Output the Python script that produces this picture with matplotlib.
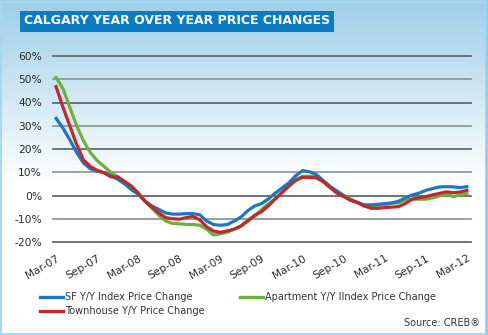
import matplotlib
matplotlib.use('Agg')
import matplotlib.pyplot as plt
import numpy as np
from matplotlib.patches import Rectangle

# Monthly year-over-year price change (%), Mar-07 .. Mar-12
sf_change = [33.2, 29, 24, 18.5, 14, 11.5, 10.5, 9.8, 8.5, 7,
             5, 2.5, 0.5, -2.5, -4.5, -6, -7.5, -8, -8, -7.8,
             -7.8, -8.3, -11, -12.5, -12.8, -12.5, -11, -9.3, -6.5, -4.5,
             -3.5, -1.5, 1, 3.2, 5.5, 8.5, 10.7, 10.2, 9, 6.5,
             4, 2, 0, -2, -3, -4, -4, -3.8, -3.5, -3.2,
             -2.5, -1, 0.2, 1, 2.2, 3, 3.7, 3.8, 3.7, 3.4, 3.8]
apt_change = [50.7, 46, 38, 30, 23.5, 18.5, 15, 12.5, 10, 8,
              6, 4, 1, -2.5, -5.5, -8.5, -11, -12, -12.2, -12.4,
              -12.5, -12.8, -14.5, -17, -16.5, -15.8, -14.5, -13, -10.5, -9,
              -6, -3.5, -1.5, 1.5, 4.5, 7, 8.2, 8.3, 8, 6,
              3.5, 1.5, 0, -1.5, -3, -4.5, -4.5, -4.2, -4, -3.3,
              -3.2, -2, -1.6, -1.6, -1.6, -1, -0.2, 0.6, -0.5, 0.3, 0.9]
town_change = [46.8, 38, 30, 22, 15.3, 12.5, 10.8, 9.8, 8, 8,
               6, 4, 1, -2.5, -5, -7.5, -9.5, -10, -10.2, -9.5,
               -9, -10.5, -13.5, -15.3, -15.8, -15.2, -14.5, -13.2, -11, -8.5,
               -7, -4.5, -1.5, 1.2, 4, 6.5, 7.8, 7.8, 7.6, 6,
               3.5, 1, -0.5, -2, -3, -4.5, -5.5, -5.5, -5.2, -5,
               -4.8, -3.5, -1.6, -1, -0.5, 0.3, 0.9, 1.6, 1.2, 1.5, 2.2]
tick_labels = ['Mar-07', 'Sep-07', 'Mar-08', 'Sep-08', 'Mar-09', 'Sep-09',
               'Mar-10', 'Sep-10', 'Mar-11', 'Sep-11', 'Mar-12']
y_ticks = [-20, -10, 0, 10, 20, 30, 40, 50, 60]

months = np.arange(len(sf_change))

W, H = 489, 335
fig = plt.figure(figsize=(W / 100, H / 100), dpi=100)

# background: pale blue fading to white
bg = fig.add_axes([0, 0, 1, 1], zorder=-10)
grad = np.linspace(0, 1, 256)
top = np.array([0.62, 0.81, 0.91])
white = np.array([1.0, 1.0, 1.0])
mix = np.clip(grad / 0.55, 0, 1)[:, None]
img = top * (1 - mix) + white * mix
bg.imshow(img[:, None, :], aspect='auto', extent=[0, 1, 0, 1], origin='upper')
bg.set_xlim(0, 1)
bg.set_ylim(0, 1)
bg.axis('off')
bg.add_patch(Rectangle((0.002, 0.004), 0.992, 0.99, fill=False,
                       edgecolor='#a9d7ef', linewidth=1.5))
bg.add_patch(Rectangle((0.993, 0), 0.007, 1, color='#8ccfee', linewidth=0))

# title box
fig.text(24 / W, 1 - 21 / H, 'CALGARY YEAR OVER YEAR PRICE CHANGES',
         color='white', fontsize=9.0, fontweight='bold', va='center', ha='left',
         bbox=dict(boxstyle='square,pad=0.32', facecolor='#0b7bc4', edgecolor='none'))

ax = fig.add_axes([53 / W, 1 - 242 / H, (471 - 53) / W, (242 - 56) / H])
ax.set_facecolor('none')
ax.set_xlim(-0.45, 60.6)
ax.set_ylim(-20, 60)

for i, v in enumerate(y_ticks):
    ax.axhline(v, color='#5f6b6d' if i % 2 == 0 else '#8f9a9c', linewidth=1.3,
               zorder=1, clip_on=False)

ax.plot(months, sf_change, color='#1b77c0', linewidth=2.3, zorder=3,
        solid_joinstyle='round', clip_on=False)
ax.plot(months, apt_change, color='#6ab23e', linewidth=2.3, zorder=2,
        solid_joinstyle='round', clip_on=False)
ax.plot(months, town_change, color='#c1272d', linewidth=2.3, zorder=4,
        solid_joinstyle='round', clip_on=False)

for s in ax.spines.values():
    s.set_visible(False)
ax.set_yticks(y_ticks)
ax.set_yticklabels([f'{v}%' for v in y_ticks])
ax.set_xticks(np.arange(0, 61, 6))
ax.set_xticklabels(tick_labels, rotation=30, ha='right', rotation_mode='anchor')
ax.tick_params(axis='both', length=0, labelsize=7.7, colors='#2a2a2a')
ax.tick_params(axis='y', pad=8)
ax.tick_params(axis='x', pad=8)

# legend drawn in figure coordinates
def legend_item(x, y, color, label):
    fig.add_artist(plt.Line2D([x / W, (x + 23) / W], [1 - y / H, 1 - y / H],
                              color=color, linewidth=2.4))
    fig.text((x + 25) / W, 1 - y / H, label, fontsize=7, color='#333333',
             va='center', ha='left')

legend_item(40, 297, '#1b77c0', 'SF Y/Y Index Price Change')
legend_item(240, 297, '#6ab23e', 'Apartment Y/Y IIndex Price Change')
legend_item(40, 311, '#c1272d', 'Townhouse Y/Y Price Change')
fig.text(480 / W, 1 - 323 / H, 'Source: CREB\u00ae', fontsize=7, color='#333333',
         va='center', ha='right')

fig.savefig('out.png', dpi=100)
